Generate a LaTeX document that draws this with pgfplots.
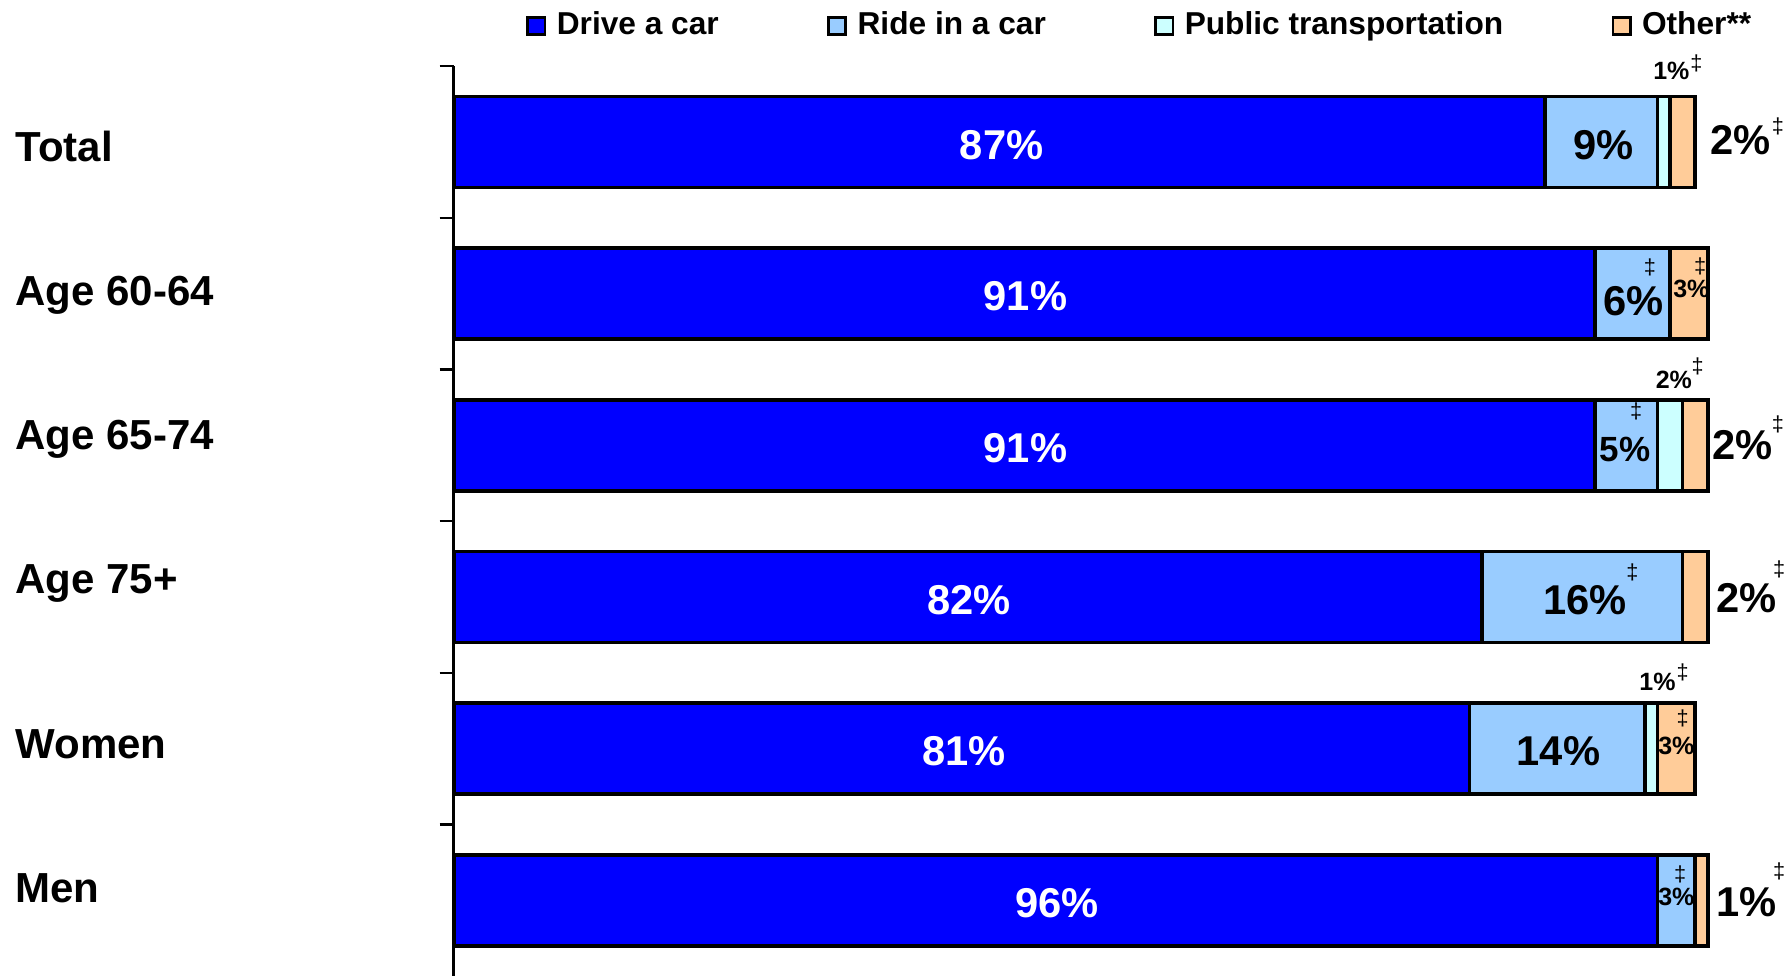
\documentclass[border=0pt]{standalone}
\usepackage{fontspec}
\setmainfont{Liberation Sans}
\usepackage{pgfplots}
\pgfplotsset{compat=1.18}

\definecolor{drive}{RGB}{0,0,255}
\definecolor{ride}{RGB}{153,204,255}
\definecolor{public}{RGB}{204,255,255}
\definecolor{other}{RGB}{255,204,153}

\newcommand\bigf{\fontsize{12.5}{12.5}\selectfont\bfseries}
\newcommand\smf{\fontsize{7.5}{7.5}\selectfont\bfseries}
\newcommand\dgf{\fontsize{6.5}{6.5}\selectfont}
\newcommand\catf{\fontsize{12.6}{12.6}\selectfont\bfseries}

\pgfplotsset{frame/.style={
  at={(136.1pt,0pt)}, anchor=south west,
  width=376.2pt, height=273pt, scale only axis,
  xmin=0, xmax=100, ymin=-0.5, ymax=5.5,
  y dir=reverse, clip=false}}

\begin{document}
\begin{tikzpicture}
\path[use as bounding box] (0,0) rectangle (537.6pt,292.8pt);
\begin{axis}[
  frame,
  xbar stacked, bar width=0.6,
  hide x axis,
  axis y line*=left,
  y axis line style={line width=0.8pt},
  ytick={-0.5,0.5,1.5,2.5,3.5,4.5},
  yticklabels={},
  tick align=outside,
  major tick length=4.2pt,
  ytick style={line width=0.7pt, black},
  every axis plot/.append style={draw=black, line width=1.1pt},
  legend columns=4,
  legend style={at={(0.0574,1.044)}, anchor=west, draw=none, fill=none,
    inner sep=0pt, font=\fontsize{9.5}{9.5}\selectfont\bfseries,
    /tikz/every even column/.append style={column sep=30.5pt}},
  legend image code/.code={\draw[#1, line width=0.8pt] (0pt,-2.6pt) rectangle (5.2pt,2.6pt);
    \path (6.2pt,0pt);},
]
\addplot[fill=drive] coordinates {(87,0) (91,1) (91,2) (82,3) (81,4) (96,5)};
\addplot[fill=ride] coordinates {(9,0) (6,1) (5,2) (16,3) (14,4) (3,5)};
\addplot[fill=public] coordinates {(1,0) (0,1) (2,2) (0,3) (1,4) (0,5)};
\addplot[fill=other] coordinates {(2,0) (3,1) (2,2) (2,3) (3,4) (1,5)};
\legend{Drive a car, Ride in a car, Public transportation, Other**}
\end{axis}

% second, empty axis on top for the value labels
\begin{axis}[frame, hide axis]
% category labels
\node[anchor=west, inner sep=0pt, font=\catf] at ([xshift=-131.6pt]axis cs:0,0.03) {Total};
\node[anchor=west, inner sep=0pt, font=\catf] at ([xshift=-131.6pt]axis cs:0,1.01) {Age 60-64};
\node[anchor=west, inner sep=0pt, font=\catf] at ([xshift=-131.6pt]axis cs:0,1.96) {Age 65-74};
\node[anchor=west, inner sep=0pt, font=\catf] at ([xshift=-131.6pt]axis cs:0,2.91) {Age 75+};
\node[anchor=west, inner sep=0pt, font=\catf] at ([xshift=-131.6pt]axis cs:0,3.97) {Women};
\node[anchor=west, inner sep=0pt, font=\catf] at ([xshift=-131.6pt]axis cs:0,4.92) {Men};

% drive a car
\node[font=\bigf, text=white] at (axis cs:43.7,0.02) {87\%};
\node[font=\bigf, text=white] at (axis cs:45.6,1.02) {91\%};
\node[font=\bigf, text=white] at (axis cs:45.6,2.02) {91\%};
\node[font=\bigf, text=white] at (axis cs:41.1,3.02) {82\%};
\node[font=\bigf, text=white] at (axis cs:40.7,4.02) {81\%};
\node[font=\bigf, text=white] at (axis cs:48.1,5.02) {96\%};

% ride in a car
\node[font=\bigf] at (axis cs:91.7,0.02) {9\%};
\node[font=\bigf] at (axis cs:94.1,1.05) {6\%};
\node[font=\dgf] at (axis cs:95.4,0.83) {‡};
\node[font=\fontsize{10.5}{10.5}\selectfont\bfseries] at (axis cs:93.4,2.03) {5\%};
\node[font=\dgf] at (axis cs:94.3,1.78) {‡};
\node[font=\bigf] at (axis cs:90.2,3.02) {16\%};
\node[font=\dgf] at (axis cs:94.0,2.84) {‡};
\node[font=\bigf] at (axis cs:88.1,4.02) {14\%};
\node[font=\smf] at (axis cs:97.5,4.98) {3\%};
\node[font=\dgf] at (axis cs:97.8,4.83) {‡};

% public transportation
\node[font=\smf] at (axis cs:97.1,-0.47) {1\%};
\node[font=\dgf] at (axis cs:99.1,-0.52) {‡};
\node[font=\smf] at (axis cs:97.3,1.57) {2\%};
\node[font=\dgf] at (axis cs:99.2,1.48) {‡};
\node[font=\smf] at (axis cs:96.0,3.56) {1\%};
\node[font=\dgf] at (axis cs:98.0,3.50) {‡};

% other
\node[font=\bigf] at (axis cs:102.6,-0.01) {2\%};
\node[font=\dgf] at (axis cs:105.6,-0.10) {‡};
\node[font=\smf] at (axis cs:98.7,0.97) {3\%};
\node[font=\dgf] at (axis cs:99.4,0.82) {‡};
\node[font=\bigf] at (axis cs:102.8,2.0) {2\%};
\node[font=\dgf] at (axis cs:105.6,1.86) {‡};
\node[font=\bigf] at (axis cs:103.1,3.01) {2\%};
\node[font=\dgf] at (axis cs:105.7,2.82) {‡};
\node[font=\smf] at (axis cs:97.5,3.98) {3\%};
\node[font=\dgf] at (axis cs:98.0,3.80) {‡};
\node[font=\bigf] at (axis cs:103.1,5.01) {1\%};
\node[font=\dgf] at (axis cs:105.7,4.81) {‡};
\end{axis}
\end{tikzpicture}
\end{document}
